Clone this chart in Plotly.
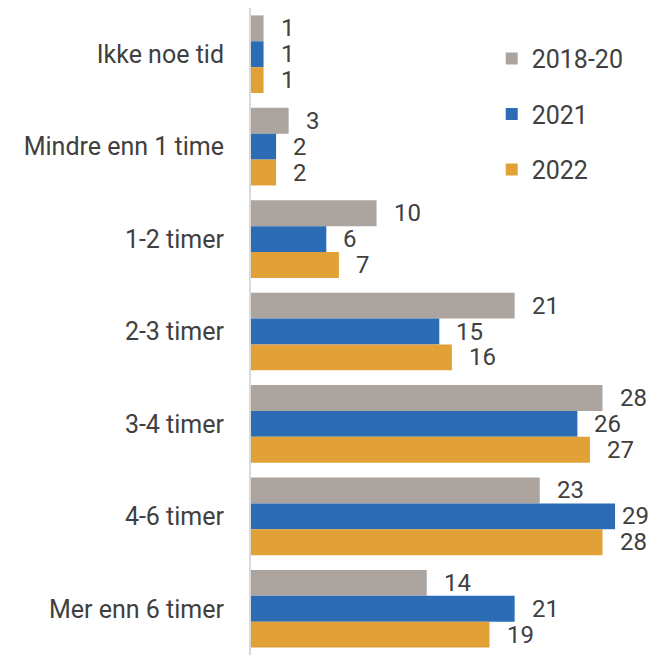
import plotly.graph_objects as go

# Kategorier (tid brukt) og verdier i prosent
categories = ["Ikke noe tid", "Mindre enn 1 time", "1-2 timer", "2-3 timer",
              "3-4 timer", "4-6 timer", "Mer enn 6 timer"]
series_names = ["2018-20", "2021", "2022"]
values_2018_20 = [1, 3, 10, 21, 28, 23, 14]
values_2021 = [1, 2, 6, 15, 26, 29, 21]
values_2022 = [1, 2, 7, 16, 27, 28, 19]

colors = ["#aca59f", "#2b6cb5", "#e1a136"]
text_color = "#404040"

fig = go.Figure()
all_values = [values_2018_20, values_2021, values_2022]
for name, vals, col in zip(series_names, all_values, colors):
    fig.add_trace(go.Bar(
        y=categories, x=vals, name=name, orientation="h",
        marker=dict(color=col, line=dict(width=0)),
        offsetgroup=name, legendgroup=name,
        hoverinfo="x+name",
    ))

# Verdietiketter til høyre for stolpene
n = len(series_names)
bar_w = 0.84 / n
x_max = 32.5
for i, vals in enumerate(all_values):
    offset = -0.42 + bar_w * (i + 0.5)
    for j, v in enumerate(vals):
        # den lengste stolpen får etiketten tettere inntil, ellers kuttes den
        shift = 16 if v < 29 else 6
        fig.add_annotation(
            x=v, y=j + offset, yref="y", xref="x",
            text=str(v), showarrow=False, xanchor="left", xshift=shift,
            font=dict(size=24, color=text_color, family="Roboto"),
            borderpad=0,
        )

# siden har 8px body-marg, så figuren gjøres litt mindre
fig.update_layout(
    width=651, height=647,
    margin=dict(l=243, r=0, t=0, b=0),
    barmode="group", bargap=0.16, bargroupgap=0,
    plot_bgcolor="white", paper_bgcolor="white",
    font=dict(family="Roboto", size=25, color=text_color),
    showlegend=True,
    legend=dict(x=0.59, y=0.957, xanchor="left", yanchor="top",
                font=dict(size=25, color=text_color),
                tracegroupgap=20, traceorder="grouped",
                bgcolor="rgba(0,0,0,0)"),
    xaxis=dict(range=[0, x_max], showgrid=False, zeroline=False,
               showticklabels=False, showline=False),
    yaxis=dict(type="category", categoryorder="array", categoryarray=categories,
               range=[6.5, -0.5], showgrid=False, zeroline=False,
               showline=True, linecolor="#d9d9d9", linewidth=2,
               ticks="outside", ticklen=20, tickcolor="rgba(0,0,0,0)",
               automargin=False,
               tickfont=dict(size=25, color=text_color)),
)

fig.write_html("out.html")
